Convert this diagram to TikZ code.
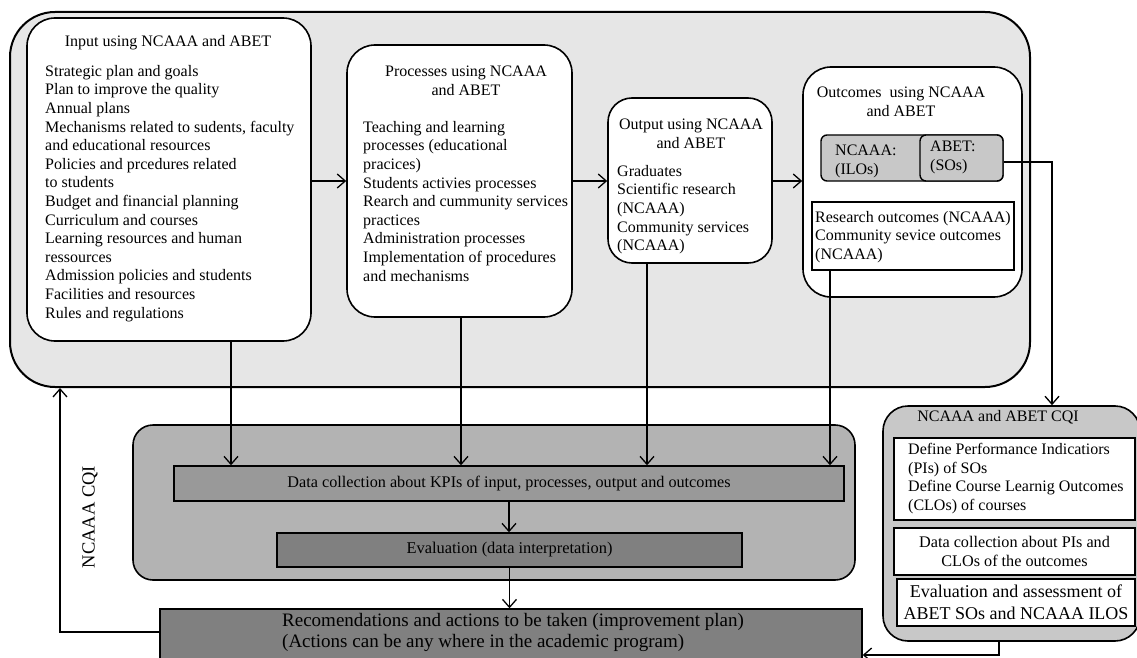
\documentclass[tikz,border=0pt]{standalone}
\usepackage{fontspec}
\setmainfont{Liberation Serif}
\usetikzlibrary{positioning, arrows.meta, calc}
\tikzset{
    >={Straight Barb[length=8pt,width=14pt]}
}

\begin{document}
\begin{tikzpicture}[x=1pt, y=-1pt]
  % grey levels of the figure
  \definecolor{outerGrey}{RGB}{230,230,230}
  \definecolor{cqiGrey}{RGB}{179,179,179}
  \definecolor{kpiGrey}{RGB}{153,153,153}
  \definecolor{darkGrey}{RGB}{128,128,128}
  \definecolor{tagGrey}{RGB}{200,200,200}

  % common styles
  \tikzset{
    panel/.style={rectangle, draw=black, line width=1.6pt, inner sep=0pt},
    stage/.style={panel, fill=white, rounded corners=28pt},
    bar/.style={rectangle, draw=black, line width=1.4pt, inner sep=0pt, align=center},
    body/.style={inner sep=0pt, align=left, font=\fontsize{16}{18.6}\selectfont},
    title/.style={inner sep=0pt, align=center, font=\fontsize{16}{18.6}\selectfont},
    arr/.style={->, line width=1.3pt}
  }

  \useasboundingbox (0,0) rectangle (1137,658);
  \clip (0,0) rectangle (1137,658);

  % the program (input -> processes -> output -> outcomes)
  \node[panel, fill=outerGrey, rounded corners=45pt, line width=2pt,
        minimum width=1020, minimum height=375] (program) at (520,199.5) {};

  \node[stage, minimum width=284, minimum height=323] (input)    at (169,179.5) {};
  \node[stage, minimum width=225, minimum height=272] (proc)     at (459.5,181) {};
  \node[stage, minimum width=164, minimum height=165, rounded corners=24pt] (output) at (690,180.5) {};
  \node[stage, minimum width=219, minimum height=230] (outcomes) at (912.5,182) {};

  \node[title] (inputT) at (168,43) {Input using NCAAA and ABET};
  \node[body, anchor=north west] (inputB) at (45,65) {Strategic plan and goals\\
    Plan to improve the quality\\
    Annual plans\\
    Mechanisms related to sudents, faculty\\
    and educational resources\\
    Policies and prcedures related\\
    to students\\
    Budget and financial planning\\
    Curriculum and courses\\
    Learning resources and human\\
    ressources\\
    Admission policies and students\\
    Facilities and resources\\
    Rules and regulations};

  \node[title] (procT) at (466,81) {Processes using NCAAA\\and ABET};
  \node[body, anchor=north west] (procB) at (363,121) {Teaching and learning\\
    processes (educational\\
    pracices)\\
    Students activies processes\\
    Rearch and cummunity services\\
    practices\\
    Administration processes\\
    Implementation of procedures\\
    and mechanisms};

  \node[title] (outputT) at (691,134) {Output using NCAAA\\and ABET};
  \node[body, anchor=north west] (outputB) at (617,165) {Graduates\\
    Scientific research\\
    (NCAAA)\\
    Community services\\
    (NCAAA)};

  \node[title] (outcomesT) at (901,102) {Outcomes\ \ using NCAAA\\and ABET};
  \node[panel, fill=tagGrey, rounded corners=6pt, line width=1.4pt,
        minimum width=182, minimum height=46] (ilo) at (912,158) {};
  \node[panel, fill=tagGrey, rounded corners=6pt, line width=1.4pt,
        minimum width=83, minimum height=46] (so) at (961.5,158) {};
  \node[body, anchor=north west] at (835,145) {NCAAA:\\(ILOs)};
  \node[body, anchor=north west] at (930,141) {ABET:\\(SOs)};
  \node[bar, fill=white, minimum width=202, minimum height=68] (research) at (913,236) {};
  \node[body, anchor=north west] at (815,211) {Research outcomes (NCAAA)\\
    Community sevice outcomes\\
    (NCAAA)};

  \draw[arr] (input.east |- proc.west) -- (proc.west);
  \draw[arr] (proc.east) -- (output.west |- proc.east);
  \draw[arr] (output.east |- proc.east) -- (outcomes.west |- proc.east);

  % NCAAA CQI loop
  \node[panel, fill=cqiGrey, rounded corners=20pt,
        minimum width=722, minimum height=155] (ncaaaCQI) at (494,502.5) {};
  \node[rotate=90, font=\fontsize{18.5}{20}\selectfont] at (90,517) {NCAAA CQI};
  \node[bar, fill=kpiGrey, minimum width=670, minimum height=35,
        font=\fontsize{16.2}{18}\selectfont] (kpi) at (509,483.5)
        {Data collection about KPIs of input, processes, output and outcomes};
  \node[bar, fill=darkGrey, minimum width=465, minimum height=34,
        font=\fontsize{16.4}{18}\selectfont] (eval) at (509.5,550)
        {Evaluation (data interpretation)};
  \node[bar, fill=darkGrey, minimum width=702, minimum height=66] (rec) at (511,642) {};
  \node[body, anchor=north west, font=\fontsize{19}{21}\selectfont] at (282,613)
        {Recomendations and actions to be taken (improvement plan)\\
         (Actions can be any where in the academic program)};

  % NCAAA and ABET CQI
  \node[panel, fill=tagGrey, rounded corners=25pt,
        minimum width=257, minimum height=235] (abetCQI) at (1011.5,523.5) {};
  \node[title] at (998,417) {NCAAA and ABET CQI};
  \node[bar, fill=white, minimum width=241, minimum height=82] (define) at (1014.5,479) {};
  \node[body, anchor=north west] at (908,443) {Define Performance Indicatiors\\
    (PIs) of SOs\\
    Define Course Learnig Outcomes\\
    (CLOs) of courses};
  \node[bar, fill=white, minimum width=241, minimum height=47,
        font=\fontsize{16.2}{18.6}\selectfont] (collect) at (1014.5,551.5)
        {Data collection about PIs and\\CLOs of the outcomes};
  \node[bar, fill=white, minimum width=238, minimum height=47,
        font=\fontsize{18}{22}\selectfont] (assess) at (1016,602.5)
        {Evaluation and assessment of\\ABET SOs and NCAAA ILOS};

  % connectors
  \draw[arr] ([xshift=62pt]input.south) -- ([xshift=62pt]input.south |- kpi.north);
  \draw[arr] ([xshift=1.5pt]proc.south) -- ([xshift=1.5pt]proc.south |- kpi.north);
  \draw[arr] ([xshift=-43pt]output.south) -- ([xshift=-43pt]output.south |- kpi.north);
  \draw[arr] ([xshift=-83pt]research.south) -- ([xshift=-83pt]research.south |- kpi.north);
  \draw[arr] (kpi.south) -- (kpi.south |- eval.north);
  \draw[arr] (eval.south) -- (eval.south |- rec.north);
  \draw[arr] ([yshift=10pt]rec.west) -| ([xshift=51pt]program.south west);
  \draw[arr] ([yshift=-4pt]so.east) -| ([xshift=40.5pt]abetCQI.north);
  \draw[arr] ([xshift=-12.5pt]abetCQI.south) |- ([yshift=-13pt]rec.east);
\end{tikzpicture}
\end{document}
